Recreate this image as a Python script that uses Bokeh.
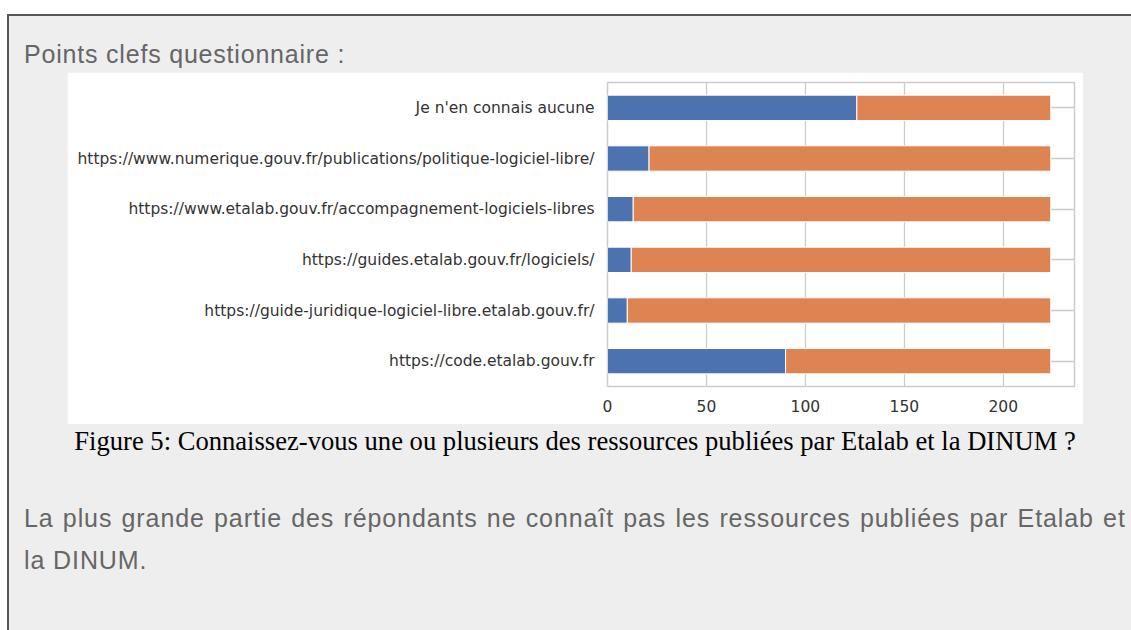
from bokeh.plotting import figure
from bokeh.models import Div, Spacer, FactorRange, Range1d, ColumnDataSource
from bokeh.layouts import column, row
from bokeh.embed import file_html
from bokeh.resources import INLINE

# ---- data ----
categories = [
    "https://code.etalab.gouv.fr",
    "https://guide-juridique-logiciel-libre.etalab.gouv.fr/",
    "https://guides.etalab.gouv.fr/logiciels/",
    "https://www.etalab.gouv.fr/accompagnement-logiciels-libres",
    "https://www.numerique.gouv.fr/publications/politique-logiciel-libre/",
    "Je n'en connais aucune",
]
oui = [90, 10, 12, 13, 21, 126]
non = [134, 214, 212, 211, 203, 98]
x_ticks = [0, 50, 100, 150, 200]

title_text = "Points clefs questionnaire :"
caption_text = "Figure 5: Connaissez-vous une ou plusieurs des ressources publiées par Etalab et la DINUM ?"
para_line1 = "La plus grande partie des répondants ne connaît pas les ressources publiées par Etalab et"
para_line2 = "la DINUM."

# ---- chart ----
source = ColumnDataSource(dict(cat=categories, oui=oui, non=non))

p = figure(
    width=1016, height=352,
    y_range=FactorRange(factors=categories),
    x_range=Range1d(0, 236),
    output_backend="svg", toolbar_location=None,
    min_border_left=540, min_border_right=9, min_border_top=10, min_border_bottom=38,
    margin=0,
)
p.hbar_stack(["oui", "non"], y="cat", height=0.5, color=["#4c72b0", "#dd8452"],
             line_color="white", line_width=1, source=source)

p.background_fill_color = "white"
p.border_fill_color = "white"
p.outline_line_color = "#cccccc"
p.outline_line_width = 1.5

for ax in (p.xaxis, p.yaxis):
    ax.axis_line_color = None
    ax.major_tick_line_color = None
    ax.minor_tick_line_color = None
    ax.major_tick_out = 0
    ax.major_tick_in = 0
    ax.major_label_text_font = "DejaVu Sans"
    ax.major_label_text_font_size = "15.5px"
    ax.major_label_text_color = "#333333"
p.yaxis.major_label_standoff = 13
p.xaxis.major_label_standoff = 13
p.xaxis.ticker = x_ticks

p.xgrid.grid_line_color = "#cccccc"
p.xgrid.grid_line_width = 1.3
p.ygrid.grid_line_color = "#cccccc"
p.ygrid.grid_line_width = 1.3

# ---- page ----
sans = "font-family:'Liberation Sans',Arial,sans-serif;color:#666666;"

title_div = Div(
    width=1122, height=56, margin=0,
    text=f'<div style="{sans}font-size:25px;letter-spacing:0.8px;line-height:25px;'
         f'padding-top:26px;padding-left:15px;white-space:nowrap;">{title_text}</div>',
)
caption_div = Div(
    width=1016, height=56, margin=0,
    text=f'<div style="font-family:\'Liberation Serif\',serif;color:#000;font-size:26.6px;'
         f'line-height:28px;padding-top:3px;text-align:center;white-space:nowrap;width:1016px;">{caption_text}</div>',
)
para_div = Div(
    width=1122, height=150, margin=0,
    text=f'<div style="{sans}font-size:25px;letter-spacing:0.9px;line-height:42px;'
         f'padding-top:17px;padding-left:15px;width:1101px;">'
         f'<div style="white-space:nowrap;word-spacing:1.4px;">{para_line1}</div>'
         f'<div style="white-space:nowrap;">{para_line2}</div></div>',
)

border_col = "#555555"
top_border = Div(width=1122, height=2, text="", margin=0, styles={"background-color": border_col})
left_border = Div(width=2, height=616, text="", margin=0, styles={"background-color": border_col})

chart_row = row(Spacer(width=58, height=352, margin=0), p, Spacer(width=48, height=352, margin=0), margin=0)
caption_row = row(Spacer(width=58, height=56, margin=0), caption_div, Spacer(width=48, height=56, margin=0), margin=0)

content = column(
    top_border, title_div, chart_row, caption_row, para_div,
    width=1122, height=616, margin=0,
    styles={"background-color": "#eeeeee"},
)

root = column(
    Spacer(width=1131, height=14, margin=0),
    row(Spacer(width=7, height=616, margin=0), left_border, content, margin=0),
    width=1131, height=630, margin=0,
)

open("out.html", "w").write(file_html(root, INLINE))
